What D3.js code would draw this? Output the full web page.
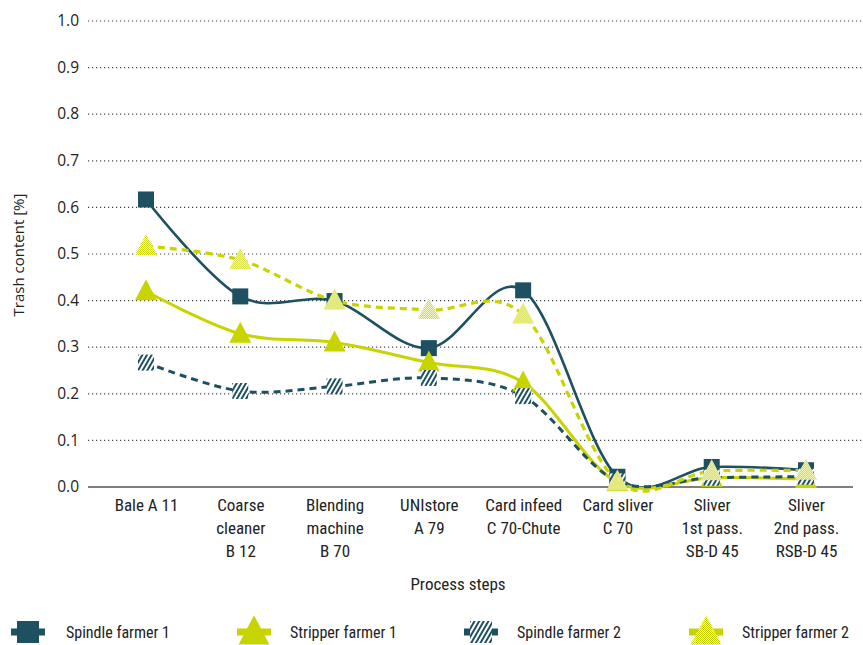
<!DOCTYPE html>
<html><head><meta charset="utf-8">
<script src="https://cdn.jsdelivr.net/npm/d3@7"></script>
<style>
body{margin:0;background:#fff;}
text{font-family:"Liberation Sans Narrow","Roboto Condensed","Roboto",sans-serif;fill:#222;}
.ytick text{font-family:"Open Sans","Noto Sans",sans-serif;}
</style></head>
<body><svg id="c" width="863" height="645"></svg>
<script>
const categories = [["Bale A 11"],["Coarse","cleaner","B 12"],["Blending","machine","B 70"],["UNIstore","A 79"],["Card infeed","C 70-Chute"],["Card sliver","C 70"],["Sliver","1st pass.","SB-D 45"],["Sliver","2nd pass.","RSB-D 45"]];
const spindle1 = [0.617,0.409,0.399,0.298,0.422,0.022,0.043,0.036];
const stripper1 = [0.42,0.329,0.31,0.267,0.224,0.01,0.02,0.017];
const spindle2 = [0.267,0.206,0.216,0.234,0.195,0.012,0.02,0.022];
const stripper2 = [0.517,0.487,0.40,0.38,0.37,0.012,0.034,0.035];
const yTicks = [0,0.1,0.2,0.3,0.4,0.5,0.6,0.7,0.8,0.9,1.0];
const seriesNames = ["Spindle farmer 1","Stripper farmer 1","Spindle farmer 2","Stripper farmer 2"];

const DARK="#1d5061", GREEN="#c8d400";
const svg=d3.select("#c");
const defs=svg.append("defs");
const hp=defs.append("pattern").attr("id","hatch").attr("patternUnits","userSpaceOnUse").attr("width",4).attr("height",4).attr("patternTransform","rotate(30)");
hp.append("rect").attr("width",4).attr("height",4).attr("fill","#fff");
hp.append("rect").attr("width",2).attr("height",4).attr("fill",DARK);
const gp=defs.append("pattern").attr("id","dots").attr("patternUnits","userSpaceOnUse").attr("width",2).attr("height",2);
gp.append("rect").attr("width",2).attr("height",2).attr("fill","#fff");
gp.append("rect").attr("width",1).attr("height",1).attr("fill",GREEN);
gp.append("rect").attr("x",1).attr("y",1).attr("width",1).attr("height",1).attr("fill",GREEN);

const x=d3.scalePoint().domain(d3.range(categories.length)).range([146,806]);
const y=d3.scaleLinear().domain([0,1]).range([487,21]);

svg.append("g").selectAll("line").data(yTicks.filter(d=>d>0)).join("line")
 .attr("x1",88).attr("x2",863).attr("y1",d=>y(d)).attr("y2",d=>y(d))
 .attr("stroke","#444").attr("stroke-width",1.2).attr("stroke-dasharray","1.2,2.8");
const ya=svg.append("g").attr("class","ytick").attr("transform","translate(79,0)")
 .call(d3.axisLeft(y).tickValues(yTicks).tickFormat(d3.format(".1f")).tickSize(0).tickPadding(0));
ya.select(".domain").remove();
ya.selectAll("text").attr("font-size",15.5).attr("fill","#222").attr("dy","0.3em");
svg.append("line").attr("x1",88).attr("x2",853).attr("y1",y(0)).attr("y2",y(0)).attr("stroke","#555").attr("stroke-width",1.5);

const xa=svg.append("g").attr("transform",`translate(0,${y(0)})`).call(d3.axisBottom(x).tickSize(0).tickFormat(""));
xa.select(".domain").remove();
xa.selectAll(".tick").each(function(d){
  const t=d3.select(this).append("text").attr("text-anchor","middle").attr("font-size",17).attr("fill","#222");
  categories[d].forEach((s,i)=>t.append("tspan").attr("x",0).attr("y",24+i*23).text(s));
});
svg.append("text").attr("x",458).attr("y",590).attr("text-anchor","middle").attr("font-size",17).text("Process steps");
svg.append("text").attr("transform","translate(24,255) rotate(-90)").attr("text-anchor","middle")
 .attr("font-size",15).style("font-family","'Open Sans',sans-serif").text("Trash content [%]");

const line=d3.line().x((d,i)=>x(i)).y(d=>y(d)).curve(d3.curveCatmullRom.alpha(0));
const series=[
 {v:spindle1,color:DARK,dash:null,w:2.6,m:"sq",fill:DARK},
 {v:stripper1,color:GREEN,dash:null,w:3,m:"tri",fill:GREEN},
 {v:spindle2,color:DARK,dash:"7,5",w:3,m:"sq",fill:"url(#hatch)"},
 {v:stripper2,color:GREEN,dash:"7,5",w:3.2,m:"tri",fill:"url(#dots)"}
];
const triPath=s=>`M0,${-s*0.6}L${s*0.55},${s*0.45}L${-s*0.55},${s*0.45}Z`;
function marker(g,s,size){
  if(s.m==="sq") g.append("rect").attr("x",-size/2).attr("y",-size/2).attr("width",size).attr("height",size).attr("fill",s.fill);
  else g.append("path").attr("d",triPath(size)).attr("fill",s.fill);
}
series.forEach(s=>{
  svg.append("path").datum(s.v).attr("d",line).attr("fill","none").attr("stroke",s.color)
   .attr("stroke-width",s.w).attr("stroke-dasharray",s.dash);
});
series.forEach(s=>{
  s.v.forEach((v,i)=>{
    const g=svg.append("g").attr("transform",`translate(${x(i)},${y(v)})`);
    marker(g,s,s.m==="sq"?16:20);
  });
});

const lx=[28,254,481,706], tx=[66,290,517,742];
series.forEach((s,i)=>{
  const g=svg.append("g").attr("transform",`translate(${lx[i]},632)`);
  g.append("rect").attr("x",-17).attr("y",-3.5).attr("width",34).attr("height",7).attr("fill",s.color);
  marker(g,s,s.m==="sq"?22:28);
  svg.append("text").attr("x",tx[i]).attr("y",632).attr("dy","0.35em").attr("font-size",16).text(seriesNames[i]);
});
</script></body></html>
